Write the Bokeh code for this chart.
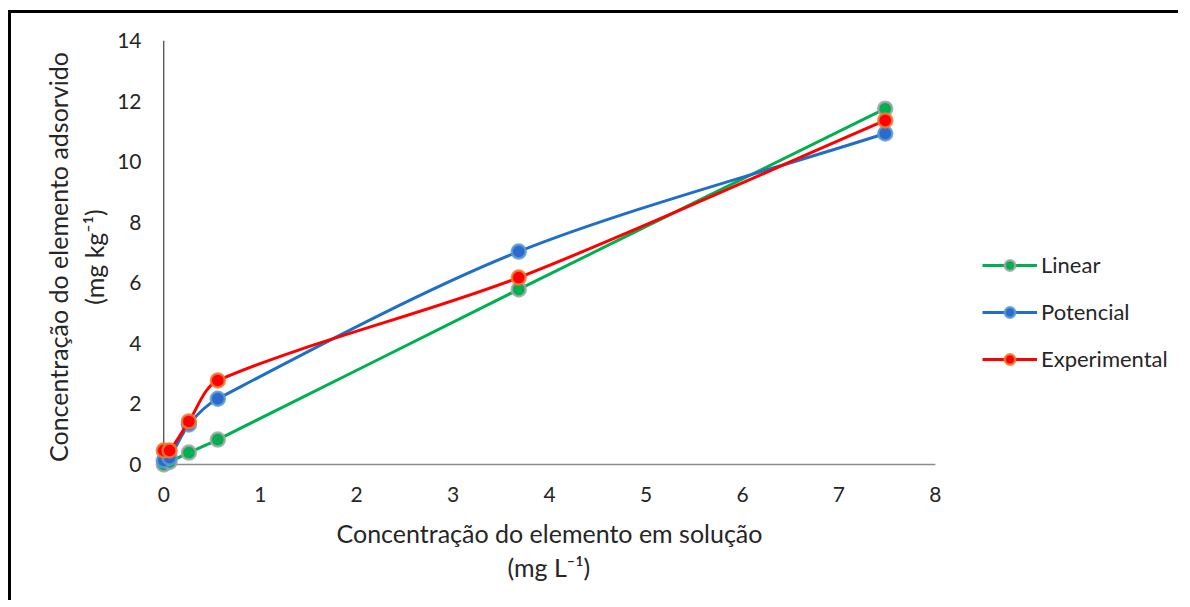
import math
from bokeh.plotting import figure
from bokeh.models import Range1d, FixedTicker, Legend, LegendItem, Title
from bokeh.embed import file_html
from bokeh.resources import INLINE

# ---- data ----
x_vals = [0.0, 0.06, 0.26, 0.56, 3.68, 7.48]
linear_y = [0.0, 0.08, 0.39, 0.82, 5.78, 11.75]
potencial_y = [0.13, 0.22, 1.32, 2.17, 7.03, 10.93]
experimental_y = [0.46, 0.46, 1.42, 2.77, 6.17, 11.36]

series_names = ["Linear", "Potencial", "Experimental"]
x_ticks = [0, 1, 2, 3, 4, 5, 6, 7, 8]
y_ticks = [0, 2, 4, 6, 8, 10, 12, 14]

x_title_1 = "Concentração do elemento em solução"
x_title_2 = "(mg L\u207b\u00b9)"
y_title = "Concentração do elemento adsorvido\n(mg kg\u207b\u00b9)"

FONT = "Lato"

W, H = 1170, 590
ML, MR, MT, MB = 133, 5, 27, 130
X0, X1 = -0.2, 10.5
Y0, Y1 = -0.3, 14.0
SX = (W - ML - MR) / (X1 - X0)   # px per x unit
SY = (H - MT - MB) / (Y1 - Y0)   # px per y unit


def smooth_segments(xs, ys, k=0.3):
    """Smooth-line Bezier control points computed in screen space."""
    px = [v * SX for v in xs]
    py = [v * SY for v in ys]
    n = len(xs)

    def tangent(i):
        a = max(i - 1, 0)
        b = min(i + 1, n - 1)
        dx, dy = px[b] - px[a], py[b] - py[a]
        L = math.hypot(dx, dy) or 1.0
        return dx / L, dy / L

    out = dict(x0=[], y0=[], x1=[], y1=[], cx0=[], cy0=[], cx1=[], cy1=[])
    for i in range(n - 1):
        d = math.hypot(px[i + 1] - px[i], py[i + 1] - py[i])
        t1 = tangent(i)
        t2 = tangent(i + 1)
        out["x0"].append(xs[i]); out["y0"].append(ys[i])
        out["x1"].append(xs[i + 1]); out["y1"].append(ys[i + 1])
        out["cx0"].append((px[i] + t1[0] * d * k) / SX)
        out["cy0"].append((py[i] + t1[1] * d * k) / SY)
        out["cx1"].append((px[i + 1] - t2[0] * d * k) / SX)
        out["cy1"].append((py[i + 1] - t2[1] * d * k) / SY)
    return out


p = figure(width=W, height=H, x_range=Range1d(X0, X1), y_range=Range1d(Y0, Y1),
           output_backend="svg", toolbar_location=None, title=None,
           min_border_left=ML, min_border_right=MR, min_border_top=MT, min_border_bottom=MB,
           styles={"border-top": "3px solid black", "border-left": "3px solid black",
                   "margin-top": "10px", "margin-left": "8px"})
p.background_fill_color = "white"
p.border_fill_color = "white"
p.outline_line_color = None
p.xgrid.visible = False
p.ygrid.visible = False

for ax in (p.xaxis[0], p.yaxis[0]):
    ax.axis_line_color = None
    ax.major_tick_line_color = None
    ax.minor_tick_line_color = None
    ax.major_tick_out = 0
    ax.major_tick_in = 0
    ax.major_label_text_font = FONT
    ax.major_label_text_font_size = "21px"
    ax.major_label_text_color = "#262626"
    ax.axis_label_text_font = FONT
    ax.axis_label_text_font_size = "25px"
    ax.axis_label_text_font_style = "normal"
    ax.axis_label_text_color = "#262626"

p.xaxis.ticker = FixedTicker(ticks=x_ticks)
p.yaxis.ticker = FixedTicker(ticks=y_ticks)
p.xaxis.major_label_standoff = 13
p.yaxis.major_label_standoff = 3
p.yaxis.axis_label = y_title
p.yaxis.axis_label_standoff = 5

# x-axis title (two centred lines under the 0..8 axis)
for txt, off, so, pad in ((x_title_1, 192, 17, (0, 0, 5, 0)), (x_title_2, 363, -14, 0)):
    t = Title(text=txt, align="left", vertical_align="top", offset=off, standoff=so,
              padding=pad,
              text_font=FONT, text_font_size="25px", text_font_style="normal",
              text_color="#262626")
    p.add_layout(t, "below")

# axis lines at the origin
p.line([x_ticks[0], x_ticks[-1]], [y_ticks[0], y_ticks[0]], line_color="#8c8c8c", line_width=1.5)
p.line([x_ticks[0], x_ticks[0]], [y_ticks[0], y_ticks[-1]], line_color="#1a1a1a", line_width=1)

styles = [
    dict(line="#00B050", fill="#00B050", ring="#A5A5A5"),
    dict(line="#1F6FC8", fill="#2A6BCB", ring="#5B9BD5"),
    dict(line="#FF0000", fill="#FF0000", ring="#ED7D31"),
]
ys_all = [linear_y, potencial_y, experimental_y]

items = []
for name, ys, st in zip(series_names, ys_all, styles):
    seg = smooth_segments(x_vals, ys)
    br = p.bezier(line_color=st["line"], line_width=3, **seg)
    sr = p.scatter(x_vals, ys, size=14, fill_color=st["fill"], line_color=st["ring"],
                   line_width=2.5, line_alpha=0.85)
    items.append(LegendItem(label=name, renderers=[br, sr]))

legend = Legend(items=items, location=(838, 101))
legend.border_line_color = None
legend.background_fill_alpha = 0
legend.label_text_font = FONT
legend.label_text_font_size = "22px"
legend.label_text_color = "#262626"
legend.glyph_width = 55
legend.glyph_height = 26
legend.label_height = 26
legend.label_standoff = 4
legend.spacing = 20
legend.margin = 0
legend.padding = 0
p.add_layout(legend, "center")

open("out.html", "w").write(file_html(p, INLINE))
